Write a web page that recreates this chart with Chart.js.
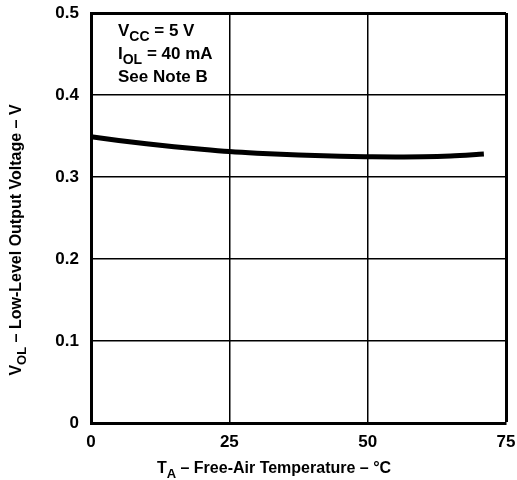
<!DOCTYPE html>
<html>
<head>
<meta charset="utf-8">
<style>
  html, body { margin: 0; padding: 0; background: #fff; }
  #wrap { width: 517px; height: 480px; position: relative; }
</style>
<script src="https://cdn.jsdelivr.net/npm/chart.js@4/dist/chart.umd.min.js"></script>
</head>
<body>
<div id="wrap"><canvas id="c" width="517" height="480"></canvas></div>
<script>
// ---- data ----
const temperatures = [0, 5, 10, 15, 20, 25, 30, 37.5, 45, 50, 55, 60, 65, 71];
const vol = [0.349, 0.3445, 0.3405, 0.337, 0.3338, 0.331, 0.329, 0.3268, 0.3253, 0.3248, 0.3245, 0.3247, 0.3257, 0.328];
const xTicks = [0, 25, 50, 75];
const yTicks = [0, 0.1, 0.2, 0.3, 0.4, 0.5];
const xTitle = [{t: 'T'}, {t: 'A', sub: true}, {t: ' \u2013 Free-Air Temperature \u2013 \u00B0C'}];
const yTitle = [{t: 'V'}, {t: 'OL', sub: true}, {t: ' \u2013 Low-Level Output Voltage \u2013 V'}];
const noteLines = [
  [{t: 'V'}, {t: 'CC', sub: true}, {t: ' = 5 V'}],
  [{t: 'I'}, {t: 'OL', sub: true}, {t: ' = 40 mA'}],
  [{t: 'See Note B'}]
];

const FONT = '"Liberation Sans", Arial, Helvetica, sans-serif';

function richWidth(ctx, parts, size) {
  let w = 0;
  for (const p of parts) {
    ctx.font = 'bold ' + (p.sub ? Math.round(size * 0.8) : size) + 'px ' + FONT;
    w += ctx.measureText(p.t).width;
  }
  return w;
}
function drawRich(ctx, parts, x, y, size) {
  let cx = x;
  ctx.textBaseline = 'alphabetic';
  ctx.textAlign = 'left';
  for (const p of parts) {
    const s = p.sub ? Math.round(size * 0.8) : size;
    ctx.font = 'bold ' + s + 'px ' + FONT;
    ctx.fillText(p.t, cx, p.sub ? y + size * 0.3 : y);
    cx += ctx.measureText(p.t).width;
  }
}

const textPlugin = {
  id: 'textPlugin',
  afterDraw(chart) {
    const ctx = chart.ctx;
    const area = chart.chartArea;
    ctx.save();
    ctx.fillStyle = '#000';
    // x title
    const xs = 16;
    const xw = richWidth(ctx, xTitle, xs);
    drawRich(ctx, xTitle, 274 - xw / 2, 473, xs);
    // y title (rotated)
    ctx.save();
    ctx.translate(21, 240);
    ctx.rotate(-Math.PI / 2);
    const yw = richWidth(ctx, yTitle, xs);
    drawRich(ctx, yTitle, -yw / 2, 0, xs);
    ctx.restore();
    // note
    const baselines = [36, 59, 82];
    noteLines.forEach((ln, i) => drawRich(ctx, ln, area.left + 27, baselines[i], 17));
    ctx.restore();
  }
};

new Chart(document.getElementById('c'), {
  type: 'line',
  data: {
    datasets: [{
      data: temperatures.map((t, i) => ({x: t, y: vol[i]})),
      borderColor: '#000',
      borderWidth: 5,
      pointRadius: 0,
      cubicInterpolationMode: 'monotone',
      fill: false
    }]
  },
  options: {
    responsive: false,
    animation: false,
    devicePixelRatio: 1,
    layout: { padding: { top: 13, right: 11, left: 0, bottom: 0 } },
    plugins: { legend: { display: false }, tooltip: { enabled: false } },
    scales: {
      x: {
        type: 'linear',
        min: 0, max: 75,
        afterBuildTicks: s => { s.ticks = xTicks.map(v => ({value: v})); },
        afterFit: s => { s.height = 57; s.paddingLeft = 0; s.paddingRight = 0; },
        grid: {
          color: '#000',
          lineWidth: c => (c.tick && c.tick.value === 75) ? 3 : 1.5,
          drawTicks: false
        },
        border: { display: true, color: '#000', width: 3 },
        ticks: {
          color: '#000',
          padding: 9,
          maxRotation: 0,
          font: { family: FONT, size: 17, weight: 'bold' }
        }
      },
      y: {
        min: 0, max: 0.5,
        afterBuildTicks: s => { s.ticks = yTicks.map(v => ({value: v})); },
        afterFit: s => { s.width = 91; s.paddingTop = 0; s.paddingBottom = 0; },
        grid: {
          color: '#000',
          lineWidth: c => (c.tick && Math.abs(c.tick.value - 0.5) < 1e-9) ? 3 : 1.5,
          drawTicks: false
        },
        border: { display: true, color: '#000', width: 3 },
        ticks: {
          color: '#000',
          padding: 12,
          callback: v => String(Math.round(v * 10) / 10),
          font: { family: FONT, size: 17, weight: 'bold' }
        }
      }
    }
  },
  plugins: [textPlugin]
});
</script>
</body>
</html>
